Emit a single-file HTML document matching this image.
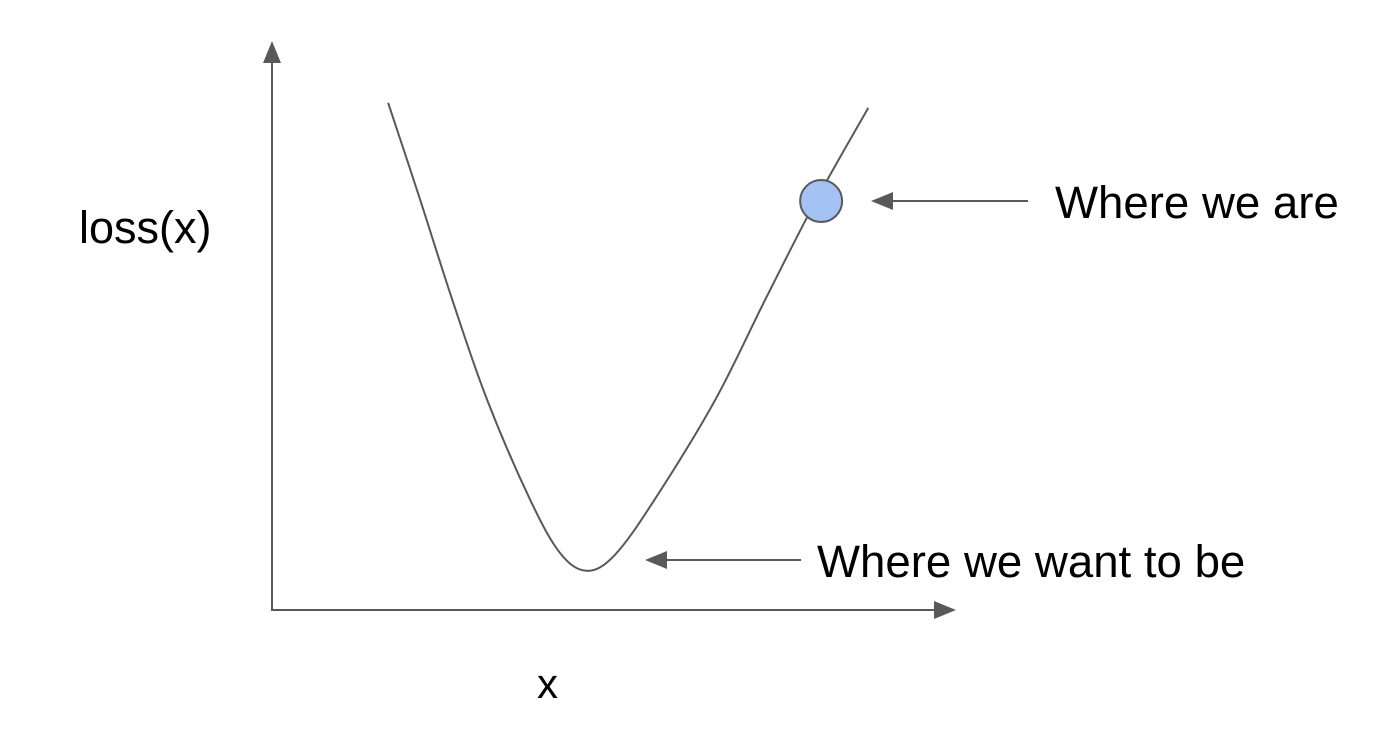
<!DOCTYPE html>
<html><head><meta charset="utf-8"><style>
html,body{margin:0;padding:0;background:#fff;}
svg{display:block;font-family:"Liberation Sans",Arial,sans-serif;}
</style></head><body>
<svg id="chart" width="1400" height="753" viewBox="0 0 1400 753">
<g id="axes">
<line x1="272" y1="611" x2="272" y2="62" stroke="#595959" stroke-width="2"/>
<polygon points="272,41 263,63 281,63" fill="#595959"/>
<line x1="271" y1="610" x2="934" y2="610" stroke="#595959" stroke-width="2"/>
<polygon points="956,610 934,601 934,619" fill="#595959"/>
</g>
<text x="79" y="243" font-size="45" fill="#000">loss(x)</text>
<text x="537" y="698" font-size="42" fill="#000">x</text>
<path id="curve" fill="none" stroke="#595959" stroke-width="2"/>
<circle id="pt" r="21" fill="#a4c2f4" stroke="#595959" stroke-width="2"/>
<line x1="1028" y1="201" x2="892" y2="201" stroke="#595959" stroke-width="2"/>
<polygon points="871,201 893,192 893,210" fill="#595959"/>
<text x="1055" y="218" font-size="45.6" fill="#000">Where we are</text>
<line x1="801" y1="560" x2="666" y2="560" stroke="#595959" stroke-width="2"/>
<polygon points="645,560 667,551 667,569" fill="#595959"/>
<text x="817" y="577" font-size="45.6" fill="#000">Where we want to be</text>
</svg>
<script>
const xs = [1.70,2.17,2.64,3.15,3.78,4.22,4.61,5.02,5.60,6.49,7.22,7.96,8.73];
const losses = [8.93,7.22,5.46,3.70,1.94,1.00,0.69,0.97,1.94,3.70,5.46,7.20,8.84];
const currentX = [8.04];
const currentLoss = [7.20];
function xScale(v){return 272+v*68.3;}
function yScale(v){return 610-v*56.8;}
const p = xs.map((x,i)=>[xScale(x),yScale(losses[i])]);
let d = 'M'+p[0][0]+','+p[0][1];
for(let i=0;i<p.length-1;i++){
  const p0=p[i-1]||p[i], p1=p[i], p2=p[i+1], p3=p[i+2]||p[i+1];
  const c1=[p1[0]+(p2[0]-p0[0])/6, p1[1]+(p2[1]-p0[1])/6];
  const c2=[p2[0]-(p3[0]-p1[0])/6, p2[1]-(p3[1]-p1[1])/6];
  d+=' C'+c1[0]+','+c1[1]+' '+c2[0]+','+c2[1]+' '+p2[0]+','+p2[1];
}
document.getElementById('curve').setAttribute('d',d);
const c=document.getElementById('pt');
c.setAttribute('cx',xScale(currentX[0]));
c.setAttribute('cy',yScale(currentLoss[0]));
</script>
</body></html>
